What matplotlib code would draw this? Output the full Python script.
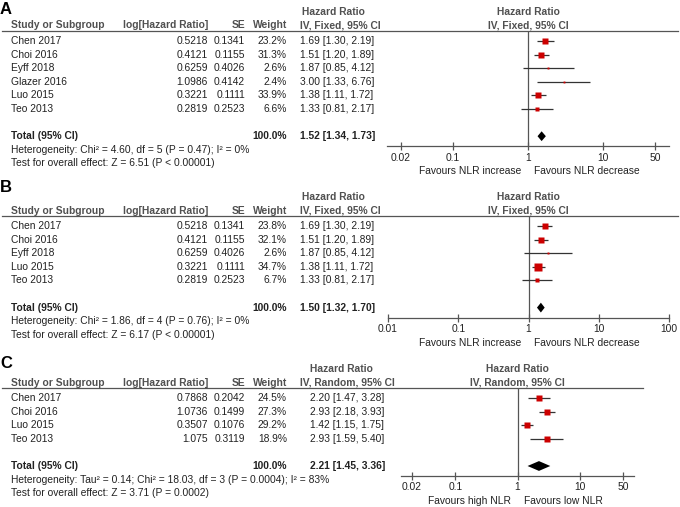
"""Three forest plots (A, B, C) of hazard ratios, RevMan style."""

import numpy as np
import matplotlib
matplotlib.use("Agg")
import matplotlib.pyplot as plt

plt.rcParams['font.family'] = ['Liberation Sans', 'DejaVu Sans']

# ---- data: panel A ----
a_studies = ["Chen 2017", "Choi 2016", "Eyff 2018", "Glazer 2016", "Luo 2015", "Teo 2013"]
a_loghr = [0.5218, 0.4121, 0.6259, 1.0986, 0.3221, 0.2819]
a_se = [0.1341, 0.1155, 0.4026, 0.4142, 0.1111, 0.2523]
a_weight = [23.2, 31.3, 2.6, 2.4, 33.9, 6.6]
a_hr = [1.69, 1.51, 1.87, 3.00, 1.38, 1.33]
a_lo = [1.30, 1.20, 0.85, 1.33, 1.11, 0.81]
a_hi = [2.19, 1.89, 4.12, 6.76, 1.72, 2.17]
a_total = (1.52, 1.34, 1.73)
a_ticks = [0.02, 0.1, 1, 10, 50]
a_het = "Heterogeneity: Chi\u00b2 = 4.60, df = 5 (P = 0.47); I\u00b2 = 0%"
a_test = "Test for overall effect: Z = 6.51 (P < 0.00001)"

# ---- data: panel B ----
b_studies = ["Chen 2017", "Choi 2016", "Eyff 2018", "Luo 2015", "Teo 2013"]
b_loghr = [0.5218, 0.4121, 0.6259, 0.3221, 0.2819]
b_se = [0.1341, 0.1155, 0.4026, 0.1111, 0.2523]
b_weight = [23.8, 32.1, 2.6, 34.7, 6.7]
b_hr = [1.69, 1.51, 1.87, 1.38, 1.33]
b_lo = [1.30, 1.20, 0.85, 1.11, 0.81]
b_hi = [2.19, 1.89, 4.12, 1.72, 2.17]
b_total = (1.50, 1.32, 1.70)
b_ticks = [0.01, 0.1, 1, 10, 100]
b_het = "Heterogeneity: Chi\u00b2 = 1.86, df = 4 (P = 0.76); I\u00b2 = 0%"
b_test = "Test for overall effect: Z = 6.17 (P < 0.00001)"

# ---- data: panel C ----
c_studies = ["Chen 2017", "Choi 2016", "Luo 2015", "Teo 2013"]
c_loghr = [0.7868, 1.0736, 0.3507, 1.075]
c_se = [0.2042, 0.1499, 0.1076, 0.3119]
c_weight = [24.5, 27.3, 29.2, 18.9]
c_hr = [2.20, 2.93, 1.42, 2.93]
c_lo = [1.47, 2.18, 1.15, 1.59]
c_hi = [3.28, 3.93, 1.75, 5.40]
c_total = (2.21, 1.45, 3.36)
c_ticks = [0.02, 0.1, 1, 10, 50]
c_het = "Heterogeneity: Tau\u00b2 = 0.14; Chi\u00b2 = 18.03, df = 3 (P = 0.0004); I\u00b2 = 83%"
c_test = "Test for overall effect: Z = 3.71 (P = 0.0002)"

W, H = 680, 507
FS = 7.4
ROW = 13.6
RED = '#cc0000'
TXT = '#222222'
HDR = '#505050'
LINE = '#555555'

panels = [
    dict(label="A", label_y=10, y0=41, studies=a_studies, loghr=a_loghr, se=a_se,
         weight=a_weight, hr=a_hr, lo=a_lo, hi=a_hi, total=a_total, ticks=a_ticks,
         het=a_het, test=a_test, method="IV, Fixed, 95% CI", hr_x=300, hr_hx=302,
         f_left=387, f_right=669, xlim=(10 ** -1.88, 10 ** 1.88), line_end=678,
         fav=("Favours NLR increase", "Favours NLR decrease")),
    dict(label="B", label_y=187, y0=226, studies=b_studies, loghr=b_loghr, se=b_se,
         weight=b_weight, hr=b_hr, lo=b_lo, hi=b_hi, total=b_total, ticks=b_ticks,
         het=b_het, test=b_test, method="IV, Fixed, 95% CI", hr_x=300, hr_hx=302,
         f_left=388, f_right=669, xlim=(0.01, 100), line_end=678,
         fav=("Favours NLR increase", "Favours NLR decrease")),
    dict(label="C", label_y=363, y0=398, studies=c_studies, loghr=c_loghr, se=c_se,
         weight=c_weight, hr=c_hr, lo=c_lo, hi=c_hi, total=c_total, ticks=c_ticks,
         het=c_het, test=c_test, method="IV, Random, 95% CI", hr_x=310, hr_hx=310,
         f_left=401, f_right=634, xlim=(10 ** -1.87, 10 ** 1.87), line_end=643,
         fav=("Favours high NLR", "Favours low NLR")),
]


def fmt_tick(v):
    return f"{v:g}"


def draw_panel(fig, base, p):
    n = len(p['studies'])
    y0 = p['y0']
    ry = lambda r: y0 + r * ROW  # row index -> pixel y

    base.text(0, p['label_y'], p['label'], fontsize=12, fontweight='bold',
              color='black', va='center', ha='left')

    # header rows
    h1, h2 = y0 - 29, y0 - 15.5
    base.text(p['hr_hx'], h1, "Hazard Ratio", fontsize=FS, fontweight='bold', color=HDR, va='center')
    base.text(11, h2, "Study or Subgroup", fontsize=FS, fontweight='bold', color=HDR, va='center')
    base.text(208, h2, "log[Hazard Ratio]", fontsize=FS, fontweight='bold', color=HDR, va='center', ha='right')
    base.text(245, h2, "SE", fontsize=FS, fontweight='bold', color=HDR, va='center', ha='right')
    base.text(287, h2, "Weight", fontsize=FS, fontweight='bold', color=HDR, va='center', ha='right')
    base.text(300, h2, p['method'], fontsize=FS, fontweight='bold', color=HDR, va='center')
    fc = (p['f_left'] + p['f_right']) / 2
    base.text(fc, h1, "Hazard Ratio", fontsize=FS, fontweight='bold', color=HDR, va='center', ha='center')
    base.text(fc, h2, p['method'], fontsize=FS, fontweight='bold', color=HDR, va='center', ha='center')
    yu = y0 - 10.5
    base.plot([2, p['line_end']], [yu, yu], color=LINE, lw=0.9)

    # study rows
    for i in range(n):
        y = ry(i)
        base.text(11, y, p['studies'][i], fontsize=FS, color=TXT, va='center')
        base.text(208, y, str(p['loghr'][i]), fontsize=FS, color=TXT, va='center', ha='right')
        base.text(245, y, str(p['se'][i]), fontsize=FS, color=TXT, va='center', ha='right')
        base.text(287, y, f"{p['weight'][i]:.1f}%", fontsize=FS, color=TXT, va='center', ha='right')
        base.text(p['hr_x'], y, f"{p['hr'][i]:.2f} [{p['lo'][i]:.2f}, {p['hi'][i]:.2f}]",
                  fontsize=FS, color=TXT, va='center')

    tr = n + 1
    t_hr, t_lo, t_hi = p['total']
    base.text(11, ry(tr), "Total (95% CI)", fontsize=FS, fontweight='bold', color=TXT, va='center')
    base.text(287, ry(tr), "100.0%", fontsize=FS, fontweight='bold', color=TXT, va='center', ha='right')
    base.text(p['hr_x'], ry(tr), f"{t_hr:.2f} [{t_lo:.2f}, {t_hi:.2f}]",
              fontsize=FS, fontweight='bold', color=TXT, va='center')
    base.text(11, ry(tr + 1), p['het'], fontsize=FS, color=TXT, va='center')
    base.text(11, ry(tr + 2), p['test'], fontsize=FS, color=TXT, va='center')

    # forest axes
    top_row = (yu - y0) / ROW
    bot_row = tr + 0.75
    ybot = ry(bot_row)
    ax = fig.add_axes([p['f_left'] / W, 1 - ybot / H,
                       (p['f_right'] - p['f_left']) / W, (ybot - yu) / H])
    ax.set_xscale('log')
    ax.set_xlim(*p['xlim'])
    ax.set_ylim(bot_row, top_row)
    ax.patch.set_visible(False)
    for s in ('top', 'right', 'left'):
        ax.spines[s].set_visible(False)
    ax.spines['bottom'].set_color(LINE)
    ax.spines['bottom'].set_linewidth(0.9)
    ax.set_yticks([])
    ax.set_xticks(p['ticks'])
    ax.set_xticklabels([fmt_tick(t) for t in p['ticks']])
    ax.minorticks_off()
    ax.tick_params(axis='x', direction='inout', length=6, width=0.9, color=LINE,
                   labelsize=FS, labelcolor=TXT, pad=1.5)
    ax.axvline(1, color=LINE, lw=0.9)

    rows = np.arange(n)
    ax.hlines(rows, p['lo'], p['hi'], color='#333333', lw=0.9, zorder=2)
    for i in range(n):
        side_px = 1.2 * np.sqrt(p['weight'][i])
        ax.plot(p['hr'][i], i, marker='s', ms=side_px * 0.72, color=RED, mec='none', zorder=3)
    dh = 0.36
    ax.fill([t_lo, t_hr, t_hi, t_hr], [tr, tr - dh, tr, tr + dh], color='black', lw=0, zorder=3)

    fy = ry(tr + 0.75) + 25
    base.text(fc - 7, fy, p['fav'][0], fontsize=FS, color=TXT, va='center', ha='right')
    base.text(fc + 6, fy, p['fav'][1], fontsize=FS, color=TXT, va='center', ha='left')


fig = plt.figure(figsize=(W / 100, H / 100), dpi=100)
fig.patch.set_facecolor('white')
base = fig.add_axes([0, 0, 1, 1])
base.set_xlim(0, W)
base.set_ylim(H, 0)
base.axis('off')

for p in panels:
    draw_panel(fig, base, p)

fig.savefig("out.png", dpi=100, facecolor='white')
